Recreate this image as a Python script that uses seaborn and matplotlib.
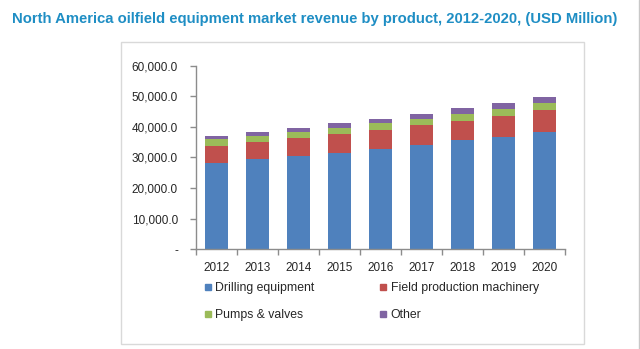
import matplotlib
matplotlib.use("Agg")
import matplotlib.pyplot as plt
from matplotlib.patches import Rectangle
from matplotlib.lines import Line2D
from matplotlib.ticker import FuncFormatter, FixedLocator
import seaborn as sns
import pandas as pd
import numpy as np

# Revenue by product segment, USD million
years = ["2012", "2013", "2014", "2015", "2016", "2017", "2018", "2019", "2020"]
drilling = [28150, 29460, 30440, 31520, 32830, 34040, 35550, 36760, 38400]
field_production = [5660, 5560, 5760, 6010, 6120, 6550, 6440, 6870, 6970]
pumps_valves = [2190, 1970, 2100, 2070, 2150, 2060, 2200, 2290, 2420]
other = [1090, 1410, 1300, 1500, 1550, 1540, 1960, 1970, 1960]

segments = ["Drilling equipment", "Field production machinery", "Pumps & valves", "Other"]
colors = ["#4F81BD", "#C0504D", "#9BBB59", "#8064A2"]

sns.set_theme(style="white")
plt.rcParams["font.family"] = ["Liberation Sans", "DejaVu Sans"]

W, H = 640, 349
fig = plt.figure(figsize=(W / 100, H / 100), dpi=100)

# Outer chart frame and right border line
fig.patches.append(Rectangle((121.3 / W, 1 - 344 / H), (584 - 121.3) / W, (344 - 42.3) / H,
                             transform=fig.transFigure, fill=False,
                             edgecolor="#d9d9d9", lw=1.0, zorder=0))
fig.add_artist(Line2D([639.2 / W, 639.2 / W], [0, 1], transform=fig.transFigure,
                      color="#c8c8c8", lw=1.0))

ax = fig.add_axes([196 / W, 1 - 249.3 / H, (565 - 196) / W, (249.3 - 65.5) / H])
ax.set_facecolor("none")

# Stacked bars: draw cumulative totals from top segment down
stack = np.cumsum(np.array([drilling, field_production, pumps_valves, other]), axis=0)
df = pd.DataFrame({"year": years})
for i in range(len(segments) - 1, -1, -1):
    df["cum"] = stack[i]
    sns.barplot(data=df, x="year", y="cum", color=colors[i], saturation=1,
                width=0.57, ax=ax, linewidth=0)

ax.set_xlim(-0.5, len(years) - 0.5)
ax.set_ylim(0, 60000)
ax.set_xlabel("")
ax.set_ylabel("")

ax.yaxis.set_major_locator(FixedLocator(np.arange(0, 60001, 10000)))
ax.yaxis.set_major_formatter(FuncFormatter(lambda v, p: "-" if v == 0 else f"{v:,.1f}"))

for s in ["top", "right"]:
    ax.spines[s].set_visible(False)
for s in ["left", "bottom"]:
    ax.spines[s].set_color("#8c8c8c")
    ax.spines[s].set_linewidth(1.0)

ax.set_xticks(np.arange(-0.5, len(years)), minor=True)
ax.tick_params(axis="x", which="major", length=0, pad=9, labelsize=8.5, labelcolor="#262626")
ax.tick_params(axis="x", which="minor", length=4, width=1, color="#8c8c8c", direction="out", bottom=True)
ax.tick_params(axis="y", which="major", length=4, width=1, color="#8c8c8c", direction="out",
               left=True, pad=9, labelsize=8.5, labelcolor="#262626")

# Legend laid out row by row: (Drilling, Field) on top, (Pumps, Other) below
order = [0, 2, 1, 3]
handles = [Line2D([], [], marker="s", linestyle="none", markersize=4,
                  markerfacecolor=colors[i], markeredgecolor=colors[i]) for i in order]
labels = [segments[i] for i in order]
fig.legend(handles, labels, ncol=2, loc="upper left",
           bbox_to_anchor=(204 / W, 1 - 282 / H), frameon=False,
           fontsize=8.8, handlelength=0.6, handletextpad=0.3,
           columnspacing=5.35, labelspacing=1.25, borderaxespad=0, borderpad=0,
           labelcolor="#262626")

fig.text(11.5 / W, 1 - 18.5 / H,
         "North America oilfield equipment market revenue by product, 2012-2020, (USD Million)",
         ha="left", va="center", fontsize=10.7, fontweight="bold", color="#1f8ec4")

fig.savefig("out.png", dpi=100)
